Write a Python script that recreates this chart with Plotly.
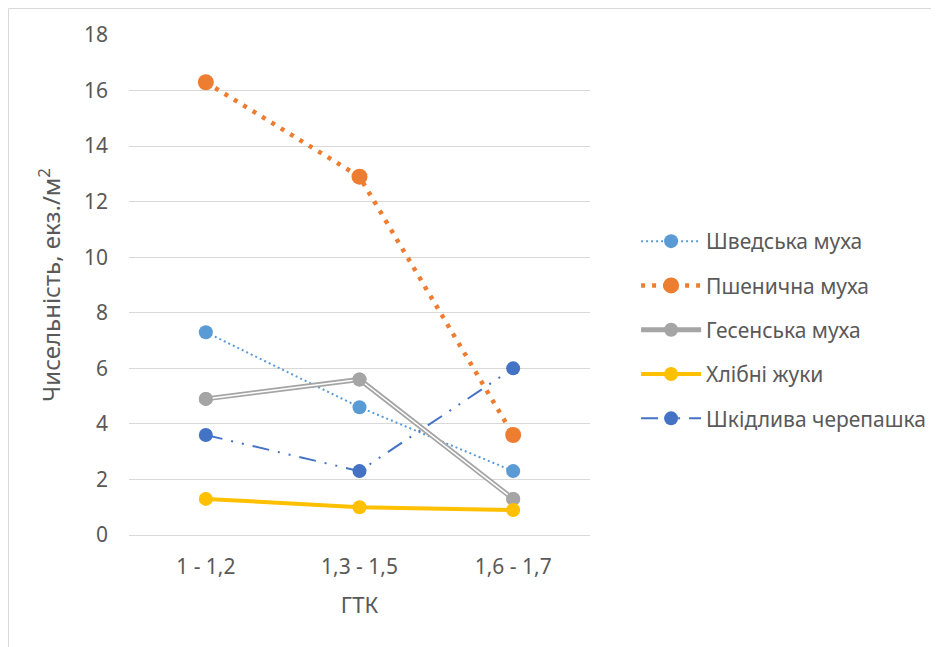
import plotly.graph_objects as go

categories = ["1 - 1,2", "1,3 - 1,5", "1,6 - 1,7"]
shvedska = [7.3, 4.6, 2.3]
pshenychna = [16.3, 12.9, 3.6]
gesenska = [4.9, 5.6, 1.3]
khlibni = [1.3, 1.0, 0.9]
shkidlyva = [3.6, 2.3, 6.0]
y_ticks = [0, 2, 4, 6, 8, 10, 12, 14, 16, 18]

FONT = "Noto Sans"
TXT = "#595959"

# page has an 8px body margin; compensate
L, T = 121, 27
PW, PH = 461, 500

fig = go.Figure()

fig.add_trace(go.Scatter(
    x=categories, y=shvedska, name="Шведська муха", mode="lines+markers",
    line=dict(color="#5b9bd5", width=2, dash="2px,3px"),
    marker=dict(size=14, color="#5b9bd5"), legendgroup="a"))
fig.add_trace(go.Scatter(
    x=categories, y=pshenychna, name="Пшенична муха", mode="lines+markers",
    line=dict(color="#ed7d31", width=4.5, dash="4px,7px"),
    marker=dict(size=16, color="#ed7d31"), legendgroup="b"))
fig.add_trace(go.Scatter(
    x=categories, y=gesenska, name="Гесенська муха", mode="lines+markers",
    line=dict(color="#a5a5a5", width=5),
    marker=dict(size=14, color="#a5a5a5"), legendgroup="c"))
fig.add_trace(go.Scatter(
    x=categories, y=gesenska, mode="lines", showlegend=False, hoverinfo="skip",
    line=dict(color="white", width=1.5), legendgroup="c"))
fig.add_trace(go.Scatter(
    x=categories, y=gesenska, mode="markers", showlegend=False, hoverinfo="skip",
    marker=dict(size=14, color="#a5a5a5"), legendgroup="c"))
fig.add_trace(go.Scatter(
    x=categories, y=khlibni, name="Хлібні жуки", mode="lines+markers",
    line=dict(color="#ffc000", width=4),
    marker=dict(size=14, color="#ffc000"), legendgroup="d"))
fig.add_trace(go.Scatter(
    x=categories, y=shkidlyva, name="Шкідлива черепашка", mode="lines+markers",
    line=dict(color="#4472c4", width=2, dash="17px,9px,2px,9px,2px,9px"),
    marker=dict(size=14, color="#4472c4"), legendgroup="e"))

fig.update_layout(
    width=939, height=647,
    margin=dict(l=L, r=939 - L - PW, t=T, b=647 - T - PH),
    paper_bgcolor="white", plot_bgcolor="white",
    font=dict(family=FONT, color=TXT, size=16),
    showlegend=True,
    legend=dict(
        x=1.10, y=0.41, xanchor="left", yanchor="middle",
        font=dict(family=FONT, size=21, color=TXT),
        tracegroupgap=14, itemwidth=60,
        bgcolor="rgba(0,0,0,0)",
    ),
    xaxis=dict(
        type="category", range=[-0.5, 2.5],
        showgrid=False, zeroline=False, showline=False, ticks="",
        ticklabelstandoff=17,
        tickfont=dict(family=FONT, size=21, color=TXT),
        title=dict(text="ГТК", font=dict(family=FONT, size=22, color=TXT), standoff=18),
    ),
    yaxis=dict(
        range=[0, 18], tickvals=y_ticks, ticktext=[str(v) for v in y_ticks],
        showgrid=True, gridcolor="#d9d9d9", gridwidth=1,
        zeroline=True, zerolinecolor="#d9d9d9", zerolinewidth=1,
        showline=False, ticks="", ticklabelstandoff=20,
        tickfont=dict(family=FONT, size=21, color=TXT),
        title=dict(text="Чисельність, екз./м<sup>2</sup>",
                   font=dict(family=FONT, size=24, color=TXT), standoff=16),
    ),
    shapes=[dict(type="rect", xref="paper", yref="paper",
                 x0=(0.5 - L) / PW, x1=(960 - L) / PW,
                 y0=(T + PH - 640) / PH, y1=(T + PH - 0.5) / PH,
                 line=dict(color="#d9d9d9", width=1), fillcolor="rgba(0,0,0,0)",
                 layer="below")],
)

fig.write_html("out.html")
